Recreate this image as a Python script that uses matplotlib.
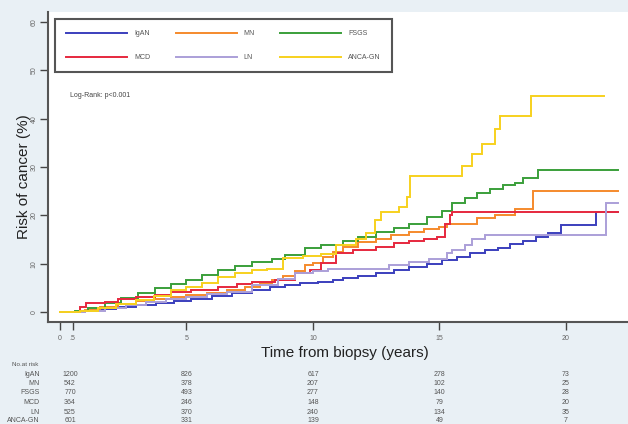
import matplotlib.pyplot as plt
import matplotlib.transforms as mtransforms

plt.rcParams['font.family'] = ['Liberation Sans', 'DejaVu Sans']

# ── data (step knots: time in years, risk in %) ──
igan_t = [0, 0.8, 1.5, 2.2, 3.0, 3.8, 4.5, 5.2, 6.0, 6.8, 7.6, 8.3, 8.9, 9.5, 10.2, 10.8,
          11.2, 11.8, 12.5, 13.2, 13.8, 14.5, 15.1, 15.7, 16.2, 16.8, 17.3, 17.8, 18.3,
          18.8, 19.3, 19.8, 21.2, 22.05]
igan_v = [0, 0.3, 0.7, 1.1, 1.5, 1.9, 2.2, 2.6, 3.3, 3.9, 4.5, 5.1, 5.6, 6.0, 6.2, 6.6,
          7.0, 7.5, 8.0, 8.7, 9.3, 9.9, 10.7, 11.4, 12.2, 12.8, 13.2, 14.0, 14.8,
          15.5, 16.3, 18.1, 20.8, 20.8]

mn_t = [0, 1.0, 1.6, 2.3, 3.0, 3.7, 4.4, 5.0, 5.8, 6.6, 7.3, 7.9, 8.4, 8.8, 9.3, 9.7,
        10.0, 10.4, 10.8, 11.2, 11.8, 12.5, 13.1, 13.8, 14.4, 15.0, 15.3, 16.5, 17.2,
        18.0, 18.7, 22.05]
mn_v = [0, 0.5, 1.0, 1.6, 2.2, 2.7, 3.1, 3.5, 4.0, 4.5, 5.2, 5.9, 6.6, 7.4, 8.5, 9.7,
        10.2, 11.4, 12.5, 13.5, 14.4, 15.2, 15.9, 16.6, 17.1, 17.6, 18.2, 19.4, 20.0,
        21.4, 25.0, 25.0]

fsgs_t = [0, 0.6, 1.1, 1.8, 2.4, 3.1, 3.75, 4.4, 5.0, 5.6, 6.25, 6.9, 7.6, 8.4, 8.9,
          9.7, 10.3, 11.2, 11.8, 12.5, 13.2, 13.8, 14.5, 15.1, 15.5, 16.0, 16.5, 17.0,
          17.5, 18.0, 18.3, 18.9, 22.05]
fsgs_v = [0, 0.3, 0.8, 1.9, 3.0, 4.0, 5.0, 5.8, 6.6, 7.6, 8.7, 9.6, 10.4, 10.9, 11.8,
          13.2, 13.8, 14.8, 15.6, 16.6, 17.4, 18.3, 19.6, 21.0, 22.5, 23.7, 24.6, 25.5,
          26.3, 26.8, 27.8, 29.3, 29.3]

mcd_t = [0, 0.8, 1.05, 1.8, 2.3, 3.0, 3.75, 4.4, 5.2, 6.25, 7.0, 7.6, 8.5, 9.3, 9.9,
         10.3, 10.9, 11.6, 12.5, 13.2, 13.8, 14.4, 14.9, 15.2, 15.4, 15.5, 22.05]
mcd_v = [0, 1.1, 1.8, 2.1, 2.7, 3.2, 3.5, 4.1, 4.5, 5.2, 5.7, 6.2, 6.6, 8.0, 8.7,
         10.1, 12.2, 12.8, 13.5, 14.2, 14.8, 15.2, 15.5, 18.3, 20.0, 20.8, 20.8]

ln_t = [0, 1.0, 1.8, 2.6, 3.4, 4.2, 5.0, 5.8, 6.6, 7.6, 8.6, 9.3, 10.0, 10.6, 13.0,
        13.8, 14.6, 15.3, 15.5, 16.0, 16.3, 16.8, 21.6, 22.05]
ln_v = [0, 0.3, 0.8, 1.4, 2.0, 2.6, 3.2, 3.7, 4.2, 5.6, 6.9, 8.0, 8.5, 8.9, 9.7,
        10.3, 10.9, 12.2, 12.8, 13.8, 15.2, 15.9, 22.5, 22.5]

anca_t = [0, 0.8, 1.5, 2.2, 3.0, 3.7, 4.4, 5.0, 5.6, 6.25, 6.9, 7.6, 8.2, 8.8, 9.6,
          10.3, 10.9, 11.7, 12.1, 12.45, 12.7, 13.4, 13.7, 13.83, 15.9, 16.3, 16.7,
          17.2, 17.4, 18.6, 21.5]
anca_v = [0, 0.3, 0.9, 1.6, 2.5, 3.4, 4.5, 5.2, 6.1, 7.3, 8.0, 8.7, 9.0, 11.1, 11.5,
          12.0, 13.8, 15.2, 16.3, 19.0, 20.7, 21.7, 23.8, 28.2, 30.3, 32.8, 34.8,
          37.9, 40.6, 44.7, 44.7]

groups = ['IgAN', 'MN', 'FSGS', 'MCD', 'LN', 'ANCA-GN']
colors = ['#3b3fbd', '#f58a2c', '#3a9f3a', '#e6283e', '#ab9fd8', '#f7d11e']

# number at risk table
risk_times = [0.4, 5, 10, 15, 20]
risk_igan = [1200, 826, 617, 278, 73]
risk_mn = [542, 378, 207, 102, 25]
risk_fsgs = [770, 493, 277, 140, 28]
risk_mcd = [364, 246, 148, 79, 20]
risk_ln = [525, 370, 240, 134, 35]
risk_anca = [601, 331, 139, 49, 7]

xticks = [0, 0.5, 5, 10, 15, 20]
xticklabels = ['0', '.5', '5', '10', '15', '20']
yticks = [0, 10, 20, 30, 40, 50, 60]

series = {
    'IgAN': (igan_t, igan_v),
    'MN': (mn_t, mn_v),
    'FSGS': (fsgs_t, fsgs_v),
    'MCD': (mcd_t, mcd_v),
    'LN': (ln_t, ln_v),
    'ANCA-GN': (anca_t, anca_v),
}
risk_rows = [risk_igan, risk_mn, risk_fsgs, risk_mcd, risk_ln, risk_anca]

# ── figure ──
W, H = 628, 424
fig = plt.figure(figsize=(W / 100, H / 100), dpi=100, facecolor='#e9f0f5')
ax = fig.add_axes([48 / W, 1 - 322 / H, 580 / W, 310 / H])
ax.set_facecolor('white')

lines = {}
for name, col in zip(groups, colors):
    t, v = series[name]
    lines[name], = ax.plot(t, v, drawstyle='steps-post', color=col, lw=1.4,
                           label=name, solid_joinstyle='miter')

ax.set_xlim(-0.47, 22.45)
ax.set_ylim(-2.07, 62.1)
ax.set_xticks(xticks)
ax.set_xticklabels(xticklabels)
ax.set_yticks(yticks)
ax.set_yticklabels([str(y) for y in yticks], rotation=90, va='center')
ax.tick_params(axis='both', length=6, width=1.0, color='#444444',
               labelsize=5, labelcolor='#666666', pad=3)
ax.tick_params(axis='y', pad=1.5)
for s in ['top', 'right']:
    ax.spines[s].set_visible(False)
for s in ['left', 'bottom']:
    ax.spines[s].set_color('#555555')
    ax.spines[s].set_linewidth(1.5)

ax.set_ylabel('Risk of cancer (%)', fontsize=11, color='#222222')
ax.yaxis.set_label_coords(-0.03, 0.47)
ax.set_xlabel('Time from biopsy (years)', fontsize=11, color='#222222')
ax.xaxis.set_label_coords(0.512, -0.078)

# legend laid out row-wise (matplotlib fills columns first)
order = ['IgAN', 'MCD', 'MN', 'LN', 'FSGS', 'ANCA-GN']
leg = ax.legend([lines[n] for n in order], order, ncol=3, loc='lower left',
                bbox_to_anchor=(0.012, 0.806, 0.581, 0.175), mode='expand',
                borderaxespad=0, fontsize=5, handlelength=8.8, handletextpad=1.0,
                labelspacing=2.45, borderpad=1.6, fancybox=False, framealpha=1,
                edgecolor='#555555')
leg.get_frame().set_linewidth(1.5)
for txt in leg.get_texts():
    txt.set_color('#555555')

ax.text(0.038, 0.732, 'Log-Rank: p<0.001', transform=ax.transAxes,
        fontsize=5, color='#444444', va='center')

# number at risk
trans = mtransforms.blended_transform_factory(ax.transData, fig.transFigure)
fig.text(12 / W, 1 - 365 / H, 'No.at risk', fontsize=4.5, color='#555555', va='center')
row_y = [374, 383.5, 393, 402.5, 412, 421]
for name, vals, yy in zip(groups, risk_rows, row_y):
    fig.text(40 / W, 1 - yy / H, name, fontsize=5, color='#555555',
             ha='right', va='center')
    for tt, n in zip(risk_times, vals):
        ax.text(tt, 1 - yy / H, str(n), transform=trans, fontsize=5,
                color='#555555', ha='center', va='center', clip_on=False)

fig.savefig('out.png', dpi=100, facecolor=fig.get_facecolor())
